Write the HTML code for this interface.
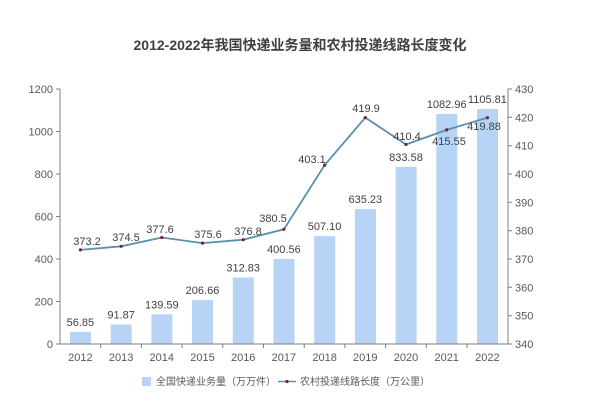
<!DOCTYPE html>
<html><head><meta charset="utf-8"><style>
html,body{margin:0;padding:0;background:#fff;}
svg{display:block;font-family:"Liberation Sans","Noto Sans CJK SC",sans-serif;}
</style></head><body>
<svg width="600" height="409" viewBox="0 0 600 409" xmlns="http://www.w3.org/2000/svg">
<text x="300" y="50" text-anchor="middle" font-size="14" font-weight="bold" fill="#404040">2012-2022年我国快递业务量和农村投递线路长度变化</text>
<g fill="#b7d3f6">
<rect x="70" y="331.9" width="21" height="12.1"/>
<rect x="110.7" y="324.5" width="21" height="19.5"/>
<rect x="151.4" y="314.3" width="21" height="29.7"/>
<rect x="192.1" y="300.1" width="21" height="43.9"/>
<rect x="232.8" y="277.5" width="21" height="66.5"/>
<rect x="273.5" y="258.9" width="21" height="85.1"/>
<rect x="314.2" y="236.2" width="21" height="107.8"/>
<rect x="354.9" y="209" width="21" height="135"/>
<rect x="395.6" y="166.9" width="21" height="177.1"/>
<rect x="436.3" y="113.9" width="21" height="230.1"/>
<rect x="477" y="109" width="21" height="235"/>
</g>
<g stroke="#7f7f7f" stroke-width="1" fill="none">
<line x1="60" y1="89" x2="60" y2="344"/>
<line x1="508" y1="89" x2="508" y2="344"/>
<line x1="60" y1="344" x2="508" y2="344"/>
<path d="M56 89H60M56 131.5H60M56 174H60M56 216.5H60M56 259H60M56 301.5H60M56 344H60"/>
<path d="M508 89H512M508 117.3H512M508 145.7H512M508 174H512M508 202.3H512M508 230.7H512M508 259H512M508 287.3H512M508 315.7H512M508 344H512"/>
<path d="M100.7 344V348M141.4 344V348M182.1 344V348M222.8 344V348M263.5 344V348M304.2 344V348M344.9 344V348M385.6 344V348M426.3 344V348M467 344V348"/>
</g>
<g font-size="11" fill="#595959" text-anchor="end">
<text x="53" y="93">1200</text><text x="53" y="135.5">1000</text><text x="53" y="178">800</text><text x="53" y="220.5">600</text><text x="53" y="263">400</text><text x="53" y="305.5">200</text><text x="53" y="348">0</text>
</g>
<g font-size="11" fill="#595959">
<text x="515" y="93">430</text><text x="515" y="121.3">420</text><text x="515" y="149.7">410</text><text x="515" y="178">400</text><text x="515" y="206.3">390</text><text x="515" y="234.7">380</text><text x="515" y="263">370</text><text x="515" y="291.3">360</text><text x="515" y="319.7">350</text><text x="515" y="348">340</text>
</g>
<g font-size="11" fill="#595959" text-anchor="middle">
<text x="80.4" y="361">2012</text><text x="121.1" y="361">2013</text><text x="161.8" y="361">2014</text><text x="202.5" y="361">2015</text><text x="243.2" y="361">2016</text><text x="283.9" y="361">2017</text><text x="324.6" y="361">2018</text><text x="365.3" y="361">2019</text><text x="406" y="361">2020</text><text x="446.7" y="361">2021</text><text x="487.4" y="361">2022</text>
</g>
<g font-size="11" fill="#404040" text-anchor="middle">
<text x="80.4" y="326">56.85</text><text x="121.1" y="318.5">91.87</text><text x="161.8" y="308.3">139.59</text><text x="202.5" y="294">206.66</text><text x="243.2" y="271.5">312.83</text><text x="283.9" y="253">400.56</text><text x="324.6" y="230.2">507.10</text><text x="365.3" y="203">635.23</text><text x="406" y="161">833.58</text><text x="446.7" y="108">1082.96</text><text x="487.4" y="103">1105.81</text>
</g>
<polyline fill="none" stroke="#5b8fb0" stroke-width="1.8" points="80.4,249.9 121.1,246.3 161.8,237.5 202.5,243.1 243.2,239.7 283.9,229.3 324.6,165.2 365.3,117.6 406,144.5 446.7,129.9 487.4,117.7"/>
<g fill="#7a1f2e">
<circle cx="80.4" cy="249.9" r="1.6"/><circle cx="121.1" cy="246.3" r="1.6"/><circle cx="161.8" cy="237.5" r="1.6"/><circle cx="202.5" cy="243.1" r="1.6"/><circle cx="243.2" cy="239.7" r="1.6"/><circle cx="283.9" cy="229.3" r="1.6"/><circle cx="324.6" cy="165.2" r="1.6"/><circle cx="365.3" cy="117.6" r="1.6"/><circle cx="406" cy="144.5" r="1.6"/><circle cx="446.7" cy="129.9" r="1.6"/><circle cx="487.4" cy="117.7" r="1.6"/>
</g>
<g font-size="11" fill="#404040" text-anchor="middle">
<text x="87" y="245">373.2</text><text x="126" y="241">374.5</text><text x="160" y="233">377.6</text><text x="208" y="238">375.6</text><text x="248" y="235">376.8</text><text x="273" y="222">380.5</text><text x="312" y="163">403.1</text><text x="366" y="112">419.9</text><text x="407" y="140">410.4</text><text x="449" y="145">415.55</text><text x="484" y="130">419.88</text>
</g>
<rect x="142" y="377" width="9" height="9" fill="#b7d3f6"/>
<text x="156" y="385" font-size="10" fill="#595959">全国快递业务量（万万件）</text>
<line x1="278" y1="381.5" x2="296" y2="381.5" stroke="#5b8fb0" stroke-width="1.5"/>
<circle cx="287" cy="381.5" r="1.6" fill="#7a1f2e"/>
<text x="300" y="385" font-size="10" fill="#595959">农村投递线路长度（万公里）</text>
</svg>
</body></html>
